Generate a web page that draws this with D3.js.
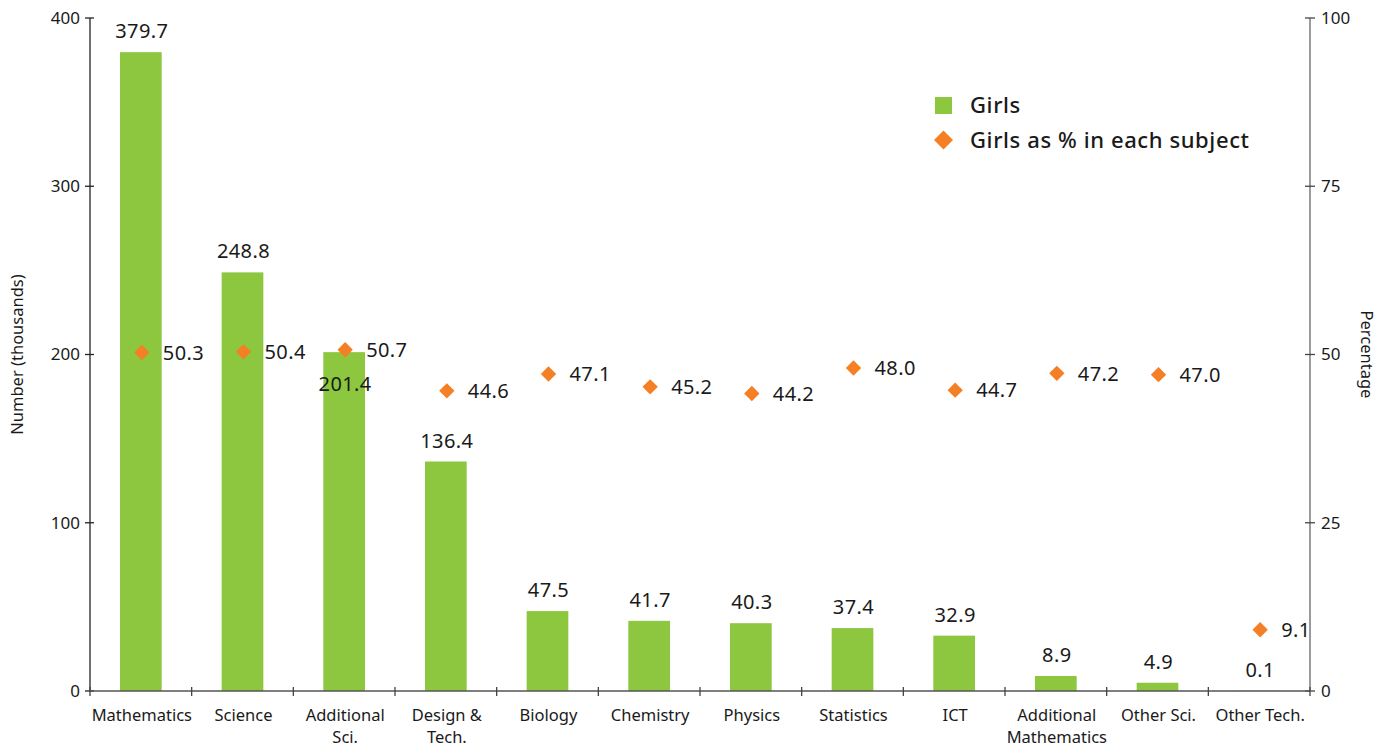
<!DOCTYPE html>
<html lang="en">
<head>
  <meta charset="UTF-8">
  <title>Girls by subject</title>
  <style>
    body { margin: 0; background: #fff; }
    svg text { font-family: "Noto Sans", "Open Sans", sans-serif; fill: #1a1a1a; }
  </style>
  <script src="https://d3js.org/d3.v7.min.js"></script>
</head>
<body>
  <svg id="chart" width="1389" height="747"></svg>

  <script>
    // Data
    const subjects = ['Mathematics', 'Science', 'Additional Sci.', 'Design & Tech.', 'Biology', 'Chemistry',
      'Physics', 'Statistics', 'ICT', 'Additional Mathematics', 'Other Sci.', 'Other Tech.'];
    const subjectLines = [['Mathematics'], ['Science'], ['Additional', 'Sci.'], ['Design &', 'Tech.'], ['Biology'],
      ['Chemistry'], ['Physics'], ['Statistics'], ['ICT'], ['Additional', 'Mathematics'], ['Other Sci.'], ['Other Tech.']];
    const girls = [379.7, 248.8, 201.4, 136.4, 47.5, 41.7, 40.3, 37.4, 32.9, 8.9, 4.9, 0.1];
    const girlsPct = [50.3, 50.4, 50.7, 44.6, 47.1, 45.2, 44.2, 48.0, 44.7, 47.2, 47.0, 9.1];
    const leftTicks = [0, 100, 200, 300, 400];
    const rightTicks = [0, 25, 50, 75, 100];

    const green = '#8dc63f';
    const orange = '#f47f24';

    const svg = d3.select('#chart');
    const margin = { top: 18, right: 79, bottom: 56, left: 90 };
    const W = 1389, H = 747;
    const x0 = margin.left, x1 = W - margin.right;
    const y0 = H - margin.bottom, y1 = margin.top;

    const x = d3.scaleBand().domain(subjects).range([x0, x1]).paddingInner(0.59).paddingOuter(0.295);
    const xb = d3.scaleBand().domain(subjects).range([x0, x1]);
    const y = d3.scaleLinear().domain([0, 400]).range([y0, y1]);
    const yr = d3.scaleLinear().domain([0, 100]).range([y0, y1]);
    const cx = s => xb(s) + xb.bandwidth() / 2;

    // Bars
    svg.append('g').selectAll('rect')
      .data(girls)
      .join('rect')
      .attr('x', (d, i) => x(subjects[i]))
      .attr('width', x.bandwidth())
      .attr('y', d => y(d))
      .attr('height', d => y0 - y(d))
      .attr('fill', green);

    // Left axis
    const gl = svg.append('g').attr('transform', `translate(${x0},0)`);
    gl.append('line').attr('y1', y0).attr('y2', y1).attr('stroke', '#222').attr('stroke-width', 1.3);
    gl.selectAll('line.t').data(leftTicks).join('line').attr('class', 't')
      .attr('x1', -5).attr('x2', 4).attr('y1', d => y(d)).attr('y2', d => y(d))
      .attr('stroke', '#222').attr('stroke-width', 1.3);
    gl.selectAll('text').data(leftTicks).join('text')
      .attr('x', -10).attr('y', d => y(d)).attr('dy', '0.35em')
      .attr('text-anchor', 'end').attr('font-size', 17)
      .text(d => d);

    // Right axis
    const gr = svg.append('g').attr('transform', `translate(${x1},0)`);
    gr.append('line').attr('y1', y0).attr('y2', y1).attr('stroke', '#666').attr('stroke-width', 1.3);
    gr.selectAll('line.t').data(rightTicks).join('line').attr('class', 't')
      .attr('x1', -5).attr('x2', 5).attr('y1', d => yr(d)).attr('y2', d => yr(d))
      .attr('stroke', '#444').attr('stroke-width', 1.3);
    gr.selectAll('text').data(rightTicks).join('text')
      .attr('x', 11).attr('y', d => yr(d)).attr('dy', '0.35em')
      .attr('text-anchor', 'start').attr('font-size', 17)
      .text(d => d);

    // Bottom axis
    const gb = svg.append('g');
    gb.append('line').attr('x1', x0).attr('x2', x1).attr('y1', y0).attr('y2', y0)
      .attr('stroke', '#555').attr('stroke-width', 1.3);
    const bounds = subjects.map(s => xb(s)).concat([x1]);
    gb.selectAll('line.t').data(bounds).join('line').attr('class', 't')
      .attr('x1', d => d).attr('x2', d => d).attr('y1', y0 - 4).attr('y2', y0 + 5)
      .attr('stroke', '#444').attr('stroke-width', 1.3);
    gb.selectAll('text').data(subjectLines).join('text')
      .attr('text-anchor', 'middle').attr('font-size', 16.5)
      .each(function (lines, i) {
        d3.select(this).selectAll('tspan').data(lines).join('tspan')
          .attr('x', cx(subjects[i]) + 1).attr('y', (d, j) => y0 + 30 + j * 22)
          .text(d => d);
      });

    // Bar value labels (Additional Sci. sits inside the bar, below the diamond)
    svg.append('g').selectAll('text')
      .data(girls)
      .join('text')
      .attr('x', (d, i) => cx(subjects[i]) + 1)
      .attr('y', (d, i) => subjects[i] === 'Additional Sci.' ? y(d) + 39 : y(d) - 14)
      .attr('text-anchor', 'middle').attr('font-size', 20).attr('letter-spacing', 0.4)
      .text(d => d.toFixed(1));

    // Percentage diamonds
    const diamond = d3.symbol().type(d3.symbolDiamond2).size(150);
    svg.append('g').selectAll('path')
      .data(girlsPct)
      .join('path')
      .attr('d', diamond)
      .attr('transform', (d, i) => `translate(${cx(subjects[i]) + 1},${yr(d)})`)
      .attr('fill', orange);
    svg.append('g').selectAll('text')
      .data(girlsPct)
      .join('text')
      .attr('x', (d, i) => cx(subjects[i]) + 22)
      .attr('y', d => yr(d)).attr('dy', '0.36em')
      .attr('font-size', 20).attr('letter-spacing', 0.4)
      .text(d => d.toFixed(1));

    // Axis titles
    svg.append('text')
      .attr('transform', `translate(23,${(y0 + y1) / 2}) rotate(-90)`)
      .attr('text-anchor', 'middle').attr('font-size', 16.5)
      .text('Number (thousands)');
    svg.append('text')
      .attr('transform', `translate(1361,${(y0 + y1) / 2}) rotate(90)`)
      .attr('text-anchor', 'middle').attr('font-size', 16.5)
      .text('Percentage');

    // Legend
    const lg = svg.append('g').attr('transform', 'translate(935,0)');
    lg.append('rect').attr('x', 0).attr('y', 97).attr('width', 17).attr('height', 17).attr('fill', green);
    lg.append('text').attr('x', 35).attr('y', 113).attr('font-size', 22).attr('font-weight', 500)
      .attr('letter-spacing', 0.6).text('Girls');
    lg.append('path').attr('d', d3.symbol().type(d3.symbolDiamond2).size(230))
      .attr('transform', 'translate(8.5,140)').attr('fill', orange);
    lg.append('text').attr('x', 35).attr('y', 148).attr('font-size', 22).attr('font-weight', 500)
      .attr('letter-spacing', 0.6).text('Girls as % in each subject');
  </script>
</body>
</html>
